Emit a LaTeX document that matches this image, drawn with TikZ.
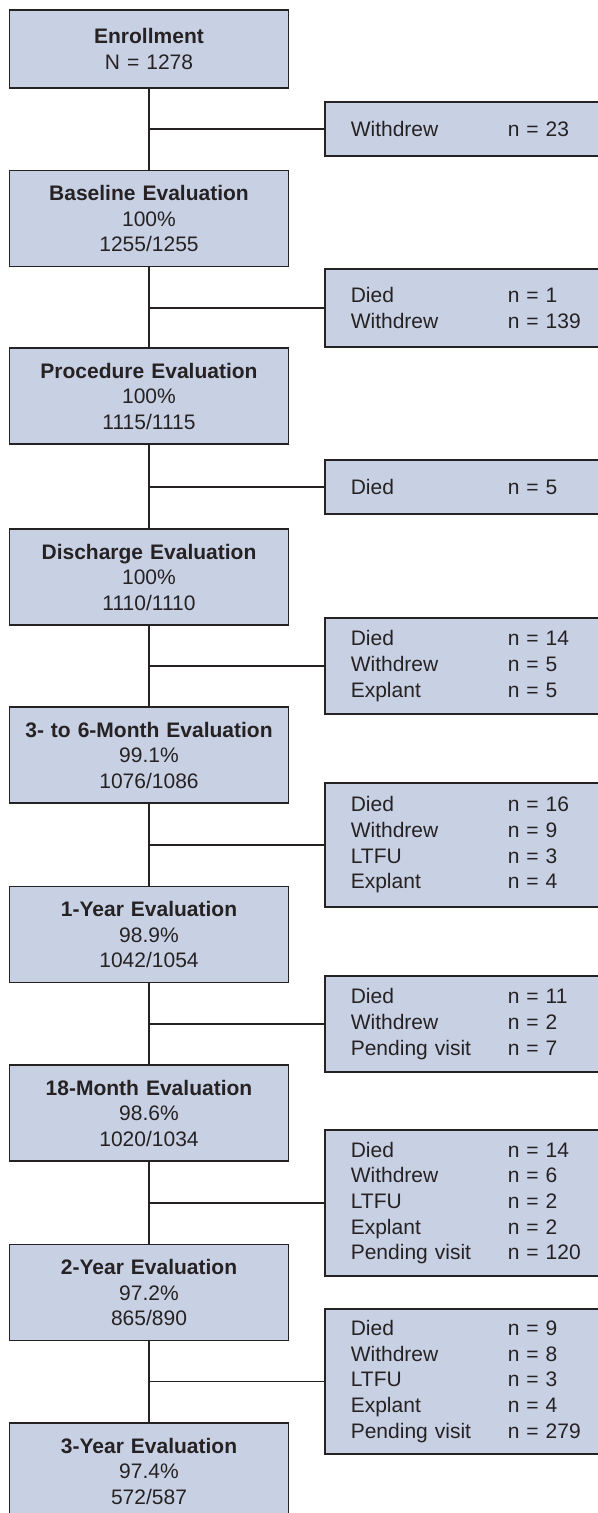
\documentclass[tikz,border=0pt]{standalone}
\usepackage{fontspec}
\setmainfont{Liberation Sans}
\usepackage{xcolor}
\usepackage{tikz}
\definecolor{boxfill}{RGB}{200,209,227}
\definecolor{boxline}{RGB}{38,34,36}
\newcommand{\lossrow}[2]{\makebox[157bp][l]{#1}n = #2}
\tikzset{ eval_box/.style = {rectangle, draw=boxline, text=boxline, line width=1.6bp, fill=boxfill, minimum width=279bp, minimum height=96bp, text width=270bp, align=center, inner sep=0pt, font=\fontsize{21bp}{25.5bp}\selectfont} }
\tikzset{ loss_box/.style = {rectangle, draw=boxline, text=boxline, line width=1.6bp, fill=boxfill, anchor=west, minimum width=320bp, text width=268bp, align=left, inner xsep=26bp, inner ysep=0pt, font=\fontsize{21bp}{25.7bp}\selectfont} }
\tikzset{ link/.style = {draw=boxline, line width=1.5bp} }

\begin{document}
\begin{tikzpicture}[x=1bp, y=-1bp]
    \useasboundingbox (0,0) rectangle (598,1513);
    \clip (0,0) rectangle (598,1513);
    \node[eval_box, minimum height=78bp] (enroll) at (149,49) {\textbf{Enrollment}\\N = 1278};
    \node[eval_box] (base) at (149,218.5) {\textbf{Baseline Evaluation}\\100\%\\1255/1255};
    \node[eval_box] (proc) at (149,396) {\textbf{Procedure Evaluation}\\100\%\\1115/1115};
    \node[eval_box] (disch) at (149,577) {\textbf{Discharge Evaluation}\\100\%\\1110/1110};
    \node[eval_box] (m3to6) at (149,755) {\textbf{3- to 6-Month Evaluation}\\99.1\%\\1076/1086};
    \node[eval_box] (y1) at (149,934.5) {\textbf{1-Year Evaluation}\\98.9\%\\1042/1054};
    \node[eval_box] (m18) at (149,1113) {\textbf{18-Month Evaluation}\\98.6\%\\1020/1034};
    \node[eval_box] (y2) at (149,1292.5) {\textbf{2-Year Evaluation}\\97.2\%\\865/890};
    \node[eval_box] (y3) at (149,1471) {\textbf{3-Year Evaluation}\\97.4\%\\572/587};

    \node[loss_box, minimum height=54bp] (out1) at (324,129) {\lossrow{Withdrew}{23}};
    \node[loss_box, minimum height=78bp] (out2) at (324,308) {\lossrow{Died}{1}\\\lossrow{Withdrew}{139}};
    \node[loss_box, minimum height=54bp] (out3) at (324,487) {\lossrow{Died}{5}};
    \node[loss_box, minimum height=96bp] (out4) at (324,666) {\lossrow{Died}{14}\\\lossrow{Withdrew}{5}\\\lossrow{Explant}{5}};
    \node[loss_box, minimum height=124bp] (out5) at (324,845) {\lossrow{Died}{16}\\\lossrow{Withdrew}{9}\\\lossrow{LTFU}{3}\\\lossrow{Explant}{4}};
    \node[loss_box, minimum height=96bp] (out6) at (324,1024) {\lossrow{Died}{11}\\\lossrow{Withdrew}{2}\\\lossrow{Pending visit}{7}};
    \node[loss_box, minimum height=146bp] (out7) at (324,1203) {\lossrow{Died}{14}\\\lossrow{Withdrew}{6}\\\lossrow{LTFU}{2}\\\lossrow{Explant}{2}\\\lossrow{Pending visit}{120}};
    \node[loss_box, minimum height=145bp] (out8) at (324,1381.5) {\lossrow{Died}{9}\\\lossrow{Withdrew}{8}\\\lossrow{LTFU}{3}\\\lossrow{Explant}{4}\\\lossrow{Pending visit}{279}};

    \draw[link] (enroll) -- (base);
    \draw[link] (base) -- (proc);
    \draw[link] (proc) -- (disch);
    \draw[link] (disch) -- (m3to6);
    \draw[link] (m3to6) -- (y1);
    \draw[link] (y1) -- (m18);
    \draw[link] (m18) -- (y2);
    \draw[link] (y2) -- (y3);
    \draw[link] (out1.west) -- (out1.west -| enroll.south);
    \draw[link] (out2.west) -- (out2.west -| base.south);
    \draw[link] (out3.west) -- (out3.west -| proc.south);
    \draw[link] (out4.west) -- (out4.west -| disch.south);
    \draw[link] (out5.west) -- (out5.west -| m3to6.south);
    \draw[link] (out6.west) -- (out6.west -| y1.south);
    \draw[link] (out7.west) -- (out7.west -| m18.south);
    \draw[link] (out8.west) -- (out8.west -| y2.south);
\end{tikzpicture}
\end{document}
